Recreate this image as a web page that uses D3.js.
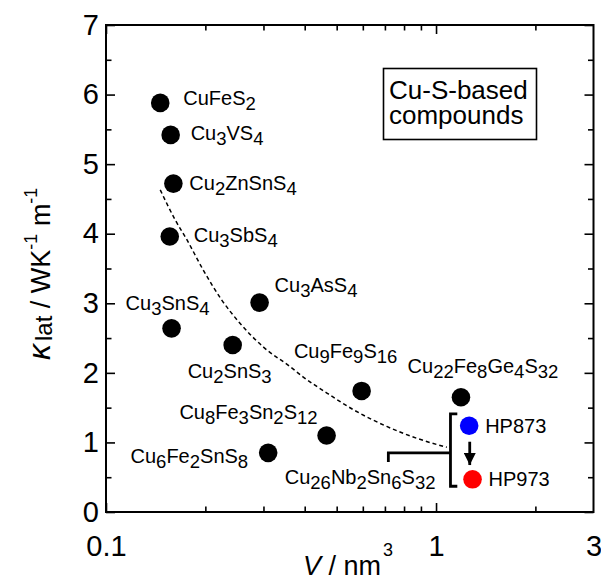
<!DOCTYPE html>
<html>
<head>
<meta charset="utf-8">
<title>Lattice thermal conductivity vs unit cell volume</title>
<script src="https://d3js.org/d3.v7.min.js"></script>
<style>
  body { margin: 0; background: #fff; }
  text { font-family: "Liberation Sans", Arial, sans-serif; fill: #000; }
</style>
</head>
<body>
<svg width="601" height="581"></svg>
<script>
// ---- data ----
const names   = ["CuFeS2", "Cu3VS4", "Cu2ZnSnS4", "Cu3SbS4", "Cu3SnS4", "Cu3AsS4",
                 "Cu2SnS3", "Cu9Fe9S16", "Cu22Fe8Ge4S32", "Cu8Fe3Sn2S12", "Cu6Fe2SnS8"];
const volumes = [0.146, 0.157, 0.160, 0.156, 0.158, 0.292, 0.242, 0.595, 1.19, 0.466, 0.310];
const kappas  = [5.88, 5.42, 4.72, 3.96, 2.64, 3.01, 2.40, 1.74, 1.65, 1.10, 0.85];

// Cu26Nb2Sn6S32 samples
const hpNames   = ["HP873", "HP973"];
const hpVolumes = [1.26, 1.29];
const hpKappas  = [1.24, 0.47];
const hpColors  = ["#0000ff", "#ff0000"];

// dashed guide curve
const guideV = [0.146, 0.162, 0.176, 0.197, 0.224, 0.255, 0.300, 0.361, 0.396, 0.467, 0.562, 0.709, 0.874, 1.078];
const guideK = [4.63, 4.20, 3.91, 3.48, 3.05, 2.71, 2.37, 2.09, 1.94, 1.71, 1.47, 1.23, 1.06, 0.93];

const xMajor = [0.1, 1];
const xMinor = [0.2, 0.3, 0.4, 0.5, 0.6, 0.7, 0.8, 0.9, 2];
const xLabels = [0.1, 1, 3];
const yMajor = [0, 1, 2, 3, 4, 5, 6, 7];
const yMinor = [0.5, 1.5, 2.5, 3.5, 4.5, 5.5, 6.5];

// label placement (pixels relative to the point)
const labelPos = {
  "CuFeS2":        {dx: 23,   dy: 2,   anchor: "start"},
  "Cu3VS4":        {dx: 20,   dy: 5,   anchor: "start"},
  "Cu2ZnSnS4":     {dx: 16,   dy: 6,   anchor: "start"},
  "Cu3SbS4":       {dx: 24,   dy: 6,   anchor: "start"},
  "Cu3SnS4":       {dx: -4,   dy: -18, anchor: "middle"},
  "Cu3AsS4":       {dx: 15,   dy: -11, anchor: "start"},
  "Cu2SnS3":       {dx: -3,   dy: 33,  anchor: "middle"},
  "Cu9Fe9S16":     {dx: -16,  dy: -33, anchor: "middle"},
  "Cu22Fe8Ge4S32": {dx: 22,   dy: -24, anchor: "middle"},
  "Cu8Fe3Sn2S12":  {dx: -9,   dy: -16, anchor: "end"},
  "Cu6Fe2SnS8":    {dx: -20,  dy: 10,  anchor: "end"}
};

const svg = d3.select("svg");
const mLeft = 106, mRight = 593.5, mTop = 25, mBottom = 512;

const x = d3.scaleLog().domain([0.1, 3]).range([mLeft, mRight]);
const y = d3.scaleLinear().domain([0, 7]).range([mBottom, mTop]);

// ---- ticks (inward, all four sides) ----
function ticks(axis, vals, size, tx, ty) {
  const g = svg.append("g")
    .attr("transform", `translate(${tx},${ty})`)
    .call(axis.tickValues(vals).tickSize(-size).tickFormat(""));
  g.select(".domain").remove();
  g.selectAll("line").attr("stroke", "#000").attr("stroke-width", 1.6);
}
ticks(d3.axisBottom(x), xMajor, 9, 0, mBottom);
ticks(d3.axisBottom(x), xMinor, 5.5, 0, mBottom);
ticks(d3.axisTop(x), xMajor, 9, 0, mTop);
ticks(d3.axisTop(x), xMinor, 5.5, 0, mTop);
ticks(d3.axisLeft(y), yMajor, 9, mLeft, 0);
ticks(d3.axisLeft(y), yMinor, 5.5, mLeft, 0);
ticks(d3.axisRight(y), yMajor, 9, mRight, 0);
ticks(d3.axisRight(y), yMinor, 5.5, mRight, 0);

svg.append("rect")
  .attr("x", mLeft).attr("y", mTop)
  .attr("width", mRight - mLeft).attr("height", mBottom - mTop)
  .attr("fill", "none").attr("stroke", "#000").attr("stroke-width", 2);

// tick labels
const xl = svg.append("g").attr("transform", `translate(0,${mBottom})`)
  .call(d3.axisBottom(x).tickValues(xLabels).tickSize(0).tickPadding(23).tickFormat(d3.format("")));
xl.select(".domain").remove();
xl.selectAll("text").attr("font-size", 29).attr("font-family", "Liberation Sans, Arial, sans-serif");

const yl = svg.append("g").attr("transform", `translate(${mLeft},0)`)
  .call(d3.axisLeft(y).tickValues(yMajor).tickSize(0).tickPadding(7).tickFormat(d3.format("d")));
yl.select(".domain").remove();
yl.selectAll("text").attr("font-size", 29).attr("font-family", "Liberation Sans, Arial, sans-serif");

// axis titles
const xt = svg.append("text").attr("x", 303).attr("y", 575).attr("font-size", 27);
xt.append("tspan").attr("font-style", "italic").text("V");
xt.append("tspan").text(" / nm");
xt.append("tspan").attr("font-size", 18).attr("dx", 2).attr("dy", -19).text("3");

const yt = svg.append("text").attr("transform", "translate(50,360) rotate(-90)").attr("font-size", 27);
yt.append("tspan").attr("font-style", "italic").attr("font-size", 32).text("κ");
yt.append("tspan").attr("font-size", 24).attr("dx", 3).attr("dy", 2).text("lat");
yt.append("tspan").attr("dy", -2).text(" / WK");
yt.append("tspan").attr("font-size", 18).attr("dy", -13).text("-1");
yt.append("tspan").attr("dy", 13).text(" m");
yt.append("tspan").attr("font-size", 18).attr("dy", -13).text("-1");

// ---- dashed guide ----
const guide = guideV.map((v, i) => [v, guideK[i]]);
svg.append("path")
  .datum(guide)
  .attr("fill", "none")
  .attr("stroke", "#000")
  .attr("stroke-width", 1.5)
  .attr("stroke-dasharray", "4,3")
  .attr("d", d3.line().x(d => x(d[0])).y(d => y(d[1])).curve(d3.curveMonotoneX));

// ---- formula text with subscripts ----
function formula(sel, str, mainSize, subSize, shift) {
  const parts = str.match(/[A-Za-z]+|\d+/g);
  let down = false;
  parts.forEach(p => {
    const isNum = /\d/.test(p);
    const t = sel.append("tspan").text(p);
    if (isNum && !down) { t.attr("dy", shift).attr("font-size", subSize); down = true; }
    else if (!isNum && down) { t.attr("dy", -shift).attr("font-size", mainSize); down = false; }
    else t.attr("font-size", isNum ? subSize : mainSize);
  });
}

// black points
const pts = names.map((n, i) => ({name: n, v: volumes[i], k: kappas[i]}));
svg.append("g").selectAll("circle")
  .data(pts).enter().append("circle")
  .attr("cx", d => x(d.v)).attr("cy", d => y(d.k)).attr("r", 9.3)
  .attr("fill", "#000");

svg.append("g").selectAll("text")
  .data(pts).enter().append("text")
  .attr("x", d => x(d.v) + labelPos[d.name].dx)
  .attr("y", d => y(d.k) + labelPos[d.name].dy)
  .attr("text-anchor", d => labelPos[d.name].anchor)
  .each(function(d) { formula(d3.select(this), d.name, 20, 18.5, 5); });

// ---- Cu26Nb2Sn6S32 bracket & arrow ----
const brV = 1.106, brCapV = 1.16, brTop = 1.41, brBot = 0.37;
const brMidK = 0.85, brLeftV = 0.717, brTickK = 0.72;
const bracket = svg.append("g").attr("fill", "none").attr("stroke", "#000").attr("stroke-width", 2.8);
bracket.append("path").attr("d",
  `M${x(brCapV)},${y(brTop)}H${x(brV)}V${y(brBot)}H${x(brCapV)}`);
bracket.append("path").attr("d",
  `M${x(brLeftV)},${y(brTickK)}V${y(brMidK)}H${x(brV)}`);

const lab = svg.append("text")
  .attr("x", x(brV) - 15).attr("y", y(brMidK) + 31)
  .attr("text-anchor", "end");
formula(lab, "Cu26Nb2Sn6S32", 20, 18.5, 5);

svg.append("defs").append("marker")
  .attr("id", "arr").attr("viewBox", "0 0 10 10").attr("refX", 10).attr("refY", 5)
  .attr("markerWidth", 4.4).attr("markerHeight", 4.4).attr("orient", "auto")
  .append("path").attr("d", "M0,0L10,5L0,10Z").attr("fill", "#000");
svg.append("line")
  .attr("x1", x(1.265)).attr("x2", x(1.265))
  .attr("y1", y(1.01)).attr("y2", y(0.675))
  .attr("stroke", "#000").attr("stroke-width", 2.8)
  .attr("marker-end", "url(#arr)");

// coloured HP points
const hp = hpNames.map((n, i) => ({name: n, v: hpVolumes[i], k: hpKappas[i], c: hpColors[i]}));
svg.append("g").selectAll("circle")
  .data(hp).enter().append("circle")
  .attr("cx", d => x(d.v)).attr("cy", d => y(d.k)).attr("r", 9.3)
  .attr("fill", d => d.c);
svg.append("g").selectAll("text")
  .data(hp).enter().append("text")
  .attr("x", d => x(d.v) + 16).attr("y", d => y(d.k) + 7)
  .attr("font-size", 20)
  .text(d => d.name);

// ---- legend box ----
svg.append("rect")
  .attr("x", 383.5).attr("y", 68.5).attr("width", 153).attr("height", 71)
  .attr("fill", "#fff").attr("stroke", "#000").attr("stroke-width", 1.6);
const box = svg.append("text").attr("x", 389).attr("font-size", 26);
box.append("tspan").attr("x", 389).attr("y", 99).text("Cu-S-based");
box.append("tspan").attr("x", 389).attr("y", 124).text("compounds");
</script>
</body>
</html>
